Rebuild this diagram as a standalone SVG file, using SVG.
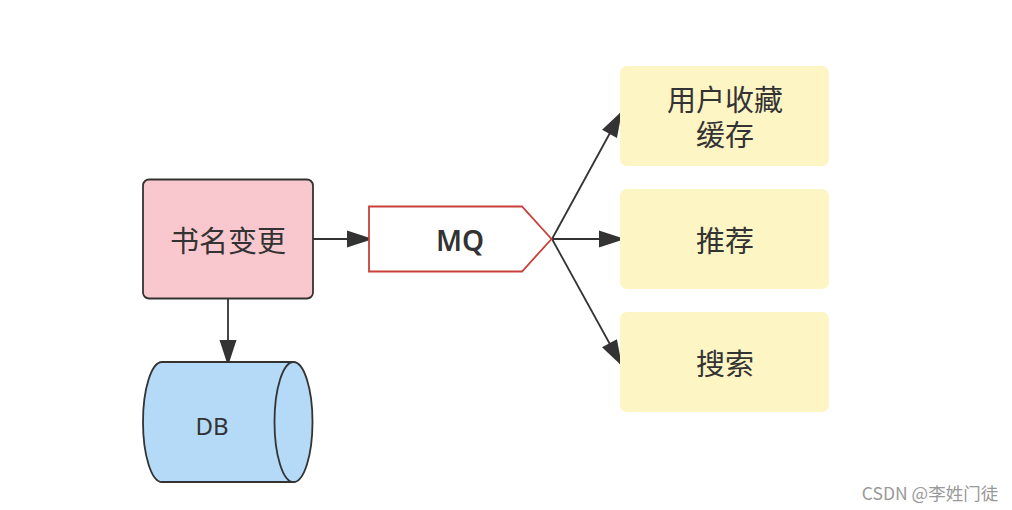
<svg xmlns="http://www.w3.org/2000/svg" width="1012" height="510" viewBox="0 0 1012 510">
<style>
.cn{font-family:"Noto Sans CJK SC","Noto Sans",sans-serif;font-size:29px;fill:#333;text-anchor:middle;dominant-baseline:central}
.en{font-family:"Noto Sans","Liberation Sans",sans-serif;fill:#333;text-anchor:middle;dominant-baseline:central}
.edge{stroke:#333;stroke-width:1.8;fill:none;marker-end:url(#ah)}
.yb{fill:#fef5c4}
</style>
<defs>
<marker id="ah" markerUnits="userSpaceOnUse" markerWidth="28" markerHeight="20" viewBox="0 0 28 20" refX="27" refY="10" orient="auto">
<path d="M1,1.5 L27,10 L1,18.5 Z" fill="#333"/>
</marker>
</defs>
<rect width="1012" height="510" fill="#fff"/>
<g id="connectors">
<line class="edge" x1="313" y1="239" x2="373" y2="239"/>
<line class="edge" x1="228" y1="298" x2="228" y2="366"/>
<line class="edge" x1="552" y1="239" x2="622" y2="111"/>
<line class="edge" x1="552" y1="239" x2="625" y2="239"/>
<line class="edge" x1="552" y1="239" x2="622" y2="366"/>
</g>
<g id="book-rename">
<rect x="143" y="179.5" width="170" height="119" rx="6" fill="#f9c8ce" stroke="#333" stroke-width="1.8"/>
<text class="cn" x="228" y="239">书名变更</text>
</g>
<g id="mq">
<path d="M369,206.5 L522,206.5 L551.5,239 L522,271.5 L369,271.5 Z" fill="#fff" stroke="#c9403a" stroke-width="1.8"/>
<text class="en" x="460" y="240" font-size="28" font-weight="600">MQ</text>
</g>
<g id="db">
<path d="M162,362 L293.5,362 A19,60 0 0 1 293.5,482 L162,482 A19,60 0 0 1 162,362 Z" fill="#b4daf8" stroke="#333" stroke-width="1.8"/>
<path d="M293.5,362 A19,60 0 0 0 293.5,482" fill="none" stroke="#333" stroke-width="1.8"/>
<text class="en" x="212" y="425" font-size="24">DB</text>
</g>
<g id="fav-cache">
<rect class="yb" x="620" y="66" width="209" height="100" rx="7"/>
<text class="cn" x="725" y="98">用户收藏</text>
<text class="cn" x="725" y="133">缓存</text>
</g>
<g id="recommend">
<rect class="yb" x="620" y="189" width="209" height="100" rx="7"/>
<text class="cn" x="725" y="239">推荐</text>
</g>
<g id="search">
<rect class="yb" x="620" y="312" width="209" height="100" rx="7"/>
<text class="cn" x="725" y="362">搜索</text>
</g>
<text x="930" y="492" font-family="Noto Sans CJK SC, sans-serif" font-size="17.5" fill="#999" text-anchor="middle" dominant-baseline="central">CSDN @李姓门徒</text>
</svg>
